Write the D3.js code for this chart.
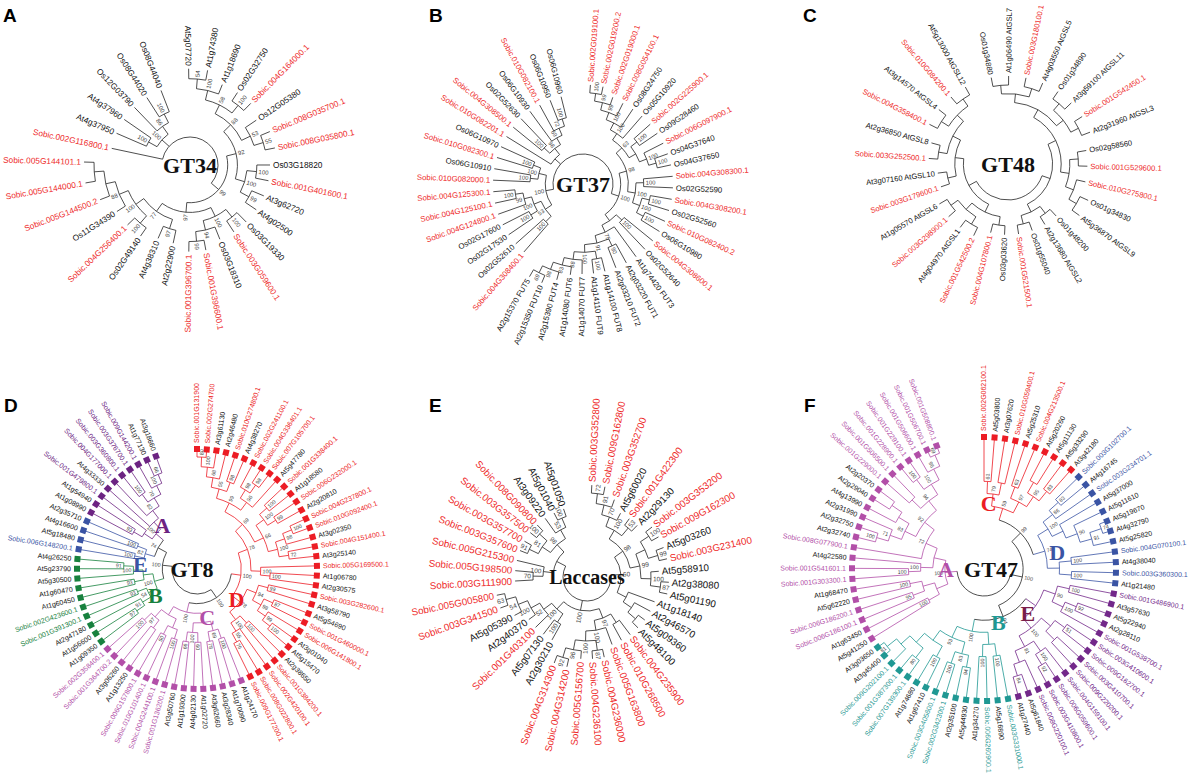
<!DOCTYPE html>
<html>
<head>
<meta charset="utf-8">
<script src="https://cdn.jsdelivr.net/npm/d3@7"></script>
<style>
  body { margin: 0; background: #fff; }
  text { font-family: "Liberation Sans", Arial, sans-serif; }
</style>
</head>
<body>
<svg id="fig" width="1192" height="774"></svg>
<script>
// trees are newick strings, clockwise leaf order, bootstrap values as node labels

// A - GT34
const gt34UpperLeft = "((At4g37950,At4g37960)100,(Os12G03790,(Os08G44020,Os08G44040)100)86)100";
const gt34Top = "(((At5g07720,At1g74380)54,At1g18690)100,(Os02G32750,Sobic.004G164000.1)100)58";
const gt34TopRight = "(Os12G05380,(Sobic.008G035700.1,Sobic.008G035800.1)55)53";
const gt34Mid = "((Os03G18820,Sobic.001G401600.1)100,(At3g62720,At4g02500)99)100";
const gt34Bottom = "((Os03G19330,Sobic.003G059600.1)100,(Os03G18310,(Sobic.001G396600.1,Sobic.001G396700.1)99)94)100";
const gt34Left = "((At2g22900,At4g38310)97,((Os02G49140,Sobic.004G256400.1)100,(Os11G34390,(Sobic.005G144500.2,(Sobic.005G144000.1,Sobic.005G144101.1)))88)100)77";
const gt34Tree = `(Sobic.002G116800.1,${gt34UpperLeft},(((${gt34Top},${gt34TopRight})88,${gt34Mid})92,(${gt34Bottom},${gt34Left})97)99)`;

// B - GT37
const gt37LowLeft = "((Sobic.004G308400.1,Os02G52610)100,((Os02G17530,Os02G17600)100,(Sobic.004G124800.1,(Sobic.004G125100.1,Sobic.004G125300.1)100)99)100)53";
const gt37Left = "((Sobic.010G082000.1,Os06G10910)100,(Sobic.010G082300.1,Os06G10970)100)100";
const gt37UpLeft = "(Sobic.010G082201.1,((Sobic.004G308500.1,Os02G52630)100,(Os06G10930,(Sobic.010G082100.1,(Os06G10950,Os06G10960)100)72)69)98)";
const gt37Top = "((((((Sobic.002G019100.1,Sobic.002G019200.2)100,Sobic.002G019000.1)99,Sobic.008G054100.1)99,Os08G24750)100,Os05G10920)100,((Sobic.002G225900.1,Os09G28460)100,(Sobic.006G097900.1,(Os04G37640,Os04G37650)100)100))63";
const gt37Right = "((Sobic.004G308300.1,Os02G52590)100,((Sobic.004G308200.1,Os02G52560)100,(Sobic.010G082400.2,Os06G10980)100)100)100";
const gt37LowRight = "((Sobic.004G308600.1,Os02G52640)100,(At1g74420 FUT3,((At2g03220 FUT1,At2g03210 FUT2)90,((At1g14100 FUT8,At1g14110 FUT9)100,(At1g14070 FUT7,(At1g14080 FUT6,(At2g15390 FUT4,(At2g15350 FUT10,At2g15370 FUT5)69)98)83)88)100)91)75)";
const gt37Tree = `((${gt37LowLeft},${gt37Left})100,${gt37UpLeft},((${gt37Top},${gt37Right})98,${gt37LowRight})100)`;

// C - GT48
const gt48Top = "((Os01g34880,At1g06490 AtGSL7),(Sobic.003G180100.1,At4g03550 AtGSL5))";
const gt48RightTop = "((Os01g34890,At3g59100 AtGSL11),(Sobic.001G542450.1,At2g31960 AtGSL3))";
const gt48RightLow = "((Os02g58560,Sobic.001G529600.1),(Sobic.010G275800.1,(Os01g34830,At5g36870 AtGSL9)))";
const gt48Bottom = "((Os01g48200,At2g13680 AtGSL2),(Os01g55040,Sobic.001G521500.1))";
const gt48LowLeft = "((Os03g03620,Sobic.004G107800.1),((Sobic.001G542500.2,At4g04970 AtGSL1),(Sobic.003G298900.1,At1g05570 AtGSL6)))";
const gt48Left = "((Sobic.003G179600.1,At3g07160 AtGSL10),((Sobic.003G252500.1,At2g36850 AtGSL8),((Sobic.004G358400.1,At3g14570 AtGSL4),(Sobic.010G084200.1,At5g13000 AtGSL12))))";
const gt48Tree = `((((${gt48Top},${gt48RightTop}),${gt48RightLow}),${gt48Bottom}),(${gt48LowLeft},${gt48Left}))`;

// E - Laccases
const lacTop = "((((Sobic.003G352800,Sobic.009G162800)72,Sobic.003G352700)91,At5g60020)70,(Sobic.001G422300,At2g29130)53)100";
const lacRight = "(((Sobic.003G353200,Sobic.009G162300)100,(At5g03260,Sobic.003G231400)99),(At5g58910,(At2g38080,At5g01190)87)100)99";
const lacMidRight = "(At1g18140,(At2g46570,(At5g09360,At5g48100)))";
const lacBottom = "((Sobic.004G235900,Sobic.010G268500),(Sobic.005G163800,((Sobic.004G236000,Sobic.004G236100)87,(Sobic.005G156700,(Sobic.004G314200,Sobic.004G314300)92)96)100)100)97";
const lacLowLeft = "((At2g30210,At5g07130)100,(Sobic.001G403100,(At2g40370,(At5g05390,(Sobic.003G341500,Sobic.005G005800)63)54)100)52)100";
const lacLeft = "((Sobic.003G111900,Sobic.005G198500)70,Sobic.005G215300)100";
const lacUpLeft = "(((Sobic.003G357600,Sobic.003G357700)91,(Sobic.003G357500,Sobic.008G090800)100)81,(At3g09220,(At5g01040,At5g01050)100)53)98";
const lacTree = `(((${lacTop},${lacRight})98,${lacMidRight})60,(${lacBottom},${lacLowLeft})100,(${lacLeft},${lacUpLeft}))`;

// D - GT8, one newick per clade
const gt8D1 = "((((Sobic.001G131900,Sobic.002G274700)80,At3g61130)100,At2g46480)68,(Sobic.010G274800.1,At4g38270)98)55";
const gt8D2 = "((Sobic.002G241100.1,(Sobic.004G336401.1,Sobic.007G105700.1)98)98,At5g47780)96";
const gt8D3 = "((Sobic.001G338400.1,At1g18580)100,(Sobic.006G232000.1,At2g20810)99)100";
const gt8D4 = "(((Sobic.004G237800.1,Sobic.010G092400.1)100,At3g02350)98,(Sobic.004G151400.1,At3g25140)72)100";
const gt8D5 = "(Sobic.005G169500.1,(At1g06780,At2g30575)100)100";
const gt8D6 = "((Sobic.003G282600.1,At3g58790)99,((At5g54690,Sobic.001G460000.1)87,(Sobic.006G141800.1,(At3g01040,At5g15470)100)99)98)94";
const gt8D7 = "((At2g38650,Sobic.001G384200.1)100,(Sobic.002G420100.1,(Sobic.008G022800.1,Sobic.009G177200.1)76)55)100";
const gt8CladeD = `((((${gt8D1},${gt8D2})99,(${gt8D3},${gt8D4})66)69,${gt8D5})78,(${gt8D6},${gt8D7})78)100`;
const gt8CladeC = "((((At1g24170,At1g70090)100,(At3g28340,At3g62660)78)69,((At1g02720,At4g02130)60,(At1g19300,At3g50760)66)100),(((Sobic.001G136200.1,Sobic.004G244100.1)100,(Sobic.010G101400.1,Sobic.006G157800.1)50),((At1g13250,At3g06260),(Sobic.001G364700.2,Sobic.002G358400.1)100)97))100";
const gt8CladeB = "((((At1g09350,At1g56600)97,At2g47180)91,(Sobic.001G391300.1,Sobic.002G423600.1)93)54,((At1g60450,At1g60470)93,(At5g30500,(At5g23790,At4g26250)91)100))100";
const gt8CladeE = "((Sobic.006G148200.1,At5g18480)100,(At4g16600,At2g35710)100)82";
const gt8CladeA = "(((At1g08990,At1g54940)93,Sobic.001G479800.1),(At4g33330,(Sobic.004G177000.1,((Sobic.003G360800.1,Sobic.003G376700.1)100,(Sobic.009G144200.1,(At1g77130,At3g18660)66)100)70)82))100";
const gt8Root = "((D,C)100,(B,(E,A)74)100)";
const gt8Keys = ["D", "C", "B", "E", "A"];
const gt8Trees = [gt8CladeD, gt8CladeC, gt8CladeB, gt8CladeE, gt8CladeA];
const gt8Colors = ["#ec1c24", "#b24fa8", "#17813e", "#3a54a4", "#6c2382"];

// F - GT47, one newick per clade
const gt47CladeC = "(((Sobic.002G062100.1,At5g03800)61,(At3g07620,Sobic.010G059400.1))79,((At5g25310,Sobic.004G213500.1)63,((At5g20260,At5g11130),(At5g33290,At3g42180)83)95)97)59";
const gt47CladeD = "((((Sobic.003G102700.1,At4g16745)83,Sobic.003G234701.1)86,(At5g37000,(At5g11610,((At5g19670,At4g32790)74,At5g25820)91)90))100,((Sobic.004G070100.1,At4g38040)100,(Sobic.003G360300.1,At1g21480)100))74";
const gt47CladeE = "(((Sobic.001G486900.1,At3g57630)100,((At5g22940,At2g28110)92,Sobic.001G538700.1)100)90,(((Sobic.003G410600.1,Sobic.009G162700.1)51,(Sobic.003G410700.1,Sobic.009G220200.1)),((Sobic.004G159100.1,(Sobic.006G059600.1,Sobic.003G410800.1)92)100,(Sobic.008G220100.1,(At5g61840,At1g27440)84))81)100)";
const gt47CladeB = "(((Sobic.003G331000.1,At5g16890)100,(Sobic.006G260900.1,At1g34270)100),(((At5g44930,At2g35100)94,(Sobic.002G342300.1,Sobic.003G405600.1)100)83,((At1g67410,At1g74680)100,((Sobic.007G139300.1,Sobic.001G387300.1)80,(Sobic.009G202100.1,(At3g45400,At3g03650)81))))93)100";
const gt47CladeA = "(((At5g41250,At1g63450)100,((Sobic.006G186100.1,Sobic.006G186200.1)95,(At5g62220,At1g68470)100)),(((Sobic.001G303300.1,Sobic.001G541601.1)100,At4g22580)100,(Sobic.008G077900.1,((((At2g32740,At2g32750)100,At2g31990)71,(At4g13990,(At2g29040,At2g20370)))83,((Sobic.001G229000.1,Sobic.001G506500.1),((Sobic.001G228900.1,Sobic.001G229100.1)100,(Sobic.001G506600.1,(Sobic.001G506700.1,Sobic.001G508800.1)69)96)100)94)92)72))100";
const gt47Root = "(((C,D)99,(E,B)94)100,A)";
const gt47Keys = ["C", "D", "E", "B", "A"];
const gt47Trees = [gt47CladeC, gt47CladeD, gt47CladeE, gt47CladeB, gt47CladeA];
const gt47Colors = ["#ec1c24", "#3a54a4", "#73288a", "#1f9893", "#b24fa8"];

const panelLetters = ["A", "B", "C", "D", "E", "F"];
const sobicRed = "#ee2a2a";

// ---------- helpers ----------
function parseNewick(str) {
  const s = str.replace(/\s*\n\s*/g, "");
  let i = 0;
  function node() {
    const n = {};
    if (s[i] === "(") {
      i++;
      n.children = [node()];
      while (s[i] === ",") { i++; n.children.push(node()); }
      i++;
    }
    const j = i;
    while (i < s.length && !",();".includes(s[i])) i++;
    const lab = s.slice(j, i).trim();
    if (n.children) n.boot = lab; else n.name = lab;
    return n;
  }
  return node();
}

function paint(n, color) {
  n.color = color;
  (n.children || []).forEach(c => paint(c, color));
}

function withClades(rootStr, keys, trees, colors) {
  const root = parseNewick(rootStr);
  (function swap(n) {
    if (!n.children) return;
    n.children = n.children.map(c => {
      const k = keys.indexOf(c.name);
      if (k < 0) { swap(c); return c; }
      const sub = parseNewick(trees[k]);
      paint(sub, colors[k]);
      return sub;
    });
  })(root);
  return root;
}

function pt(a, r) {
  const t = a * Math.PI / 180;
  return [r * Math.cos(t), r * Math.sin(t)];
}
function flipped(a) {
  const m = ((a % 360) + 360) % 360;
  return m > 90 && m < 270;
}

const svg = d3.select("#fig");

function drawPanel(cfg) {
  const g = svg.append("g").attr("transform", `translate(${cfg.cx},${cfg.cy})`);
  const root = d3.hierarchy(cfg.tree);
  const leaves = root.leaves();

  let slot = 0;
  leaves.forEach((l, k) => {
    if (k) slot += 1 + ((cfg.gaps && cfg.gaps[l.data.name]) || 0);
    l.slot = slot;
  });
  const angle = d3.scaleLinear().domain([0, slot]).range([cfg.start, cfg.end]);
  leaves.forEach(l => { l.ang = angle(l.slot); });
  root.eachAfter(n => {
    if (n.children) n.ang = (n.children[0].ang + n.children[n.children.length - 1].ang) / 2;
  });

  const maxD = d3.max(root.descendants().filter(n => n.children), n => n.depth);
  const radius = d3.scaleLinear().domain([0, maxD]).range([cfg.r0, cfg.rInner]);
  root.each(n => { if (n.children) n.r = radius(n.depth); });
  leaves.forEach(l => {
    l.r = cfg.aligned ? cfg.rLeaf
      : Math.min(cfg.rLeaf, Math.max(l.parent.r + cfg.stem, cfg.rMin));
  });

  const ink = n => n.data.color || "#222";

  // radial branches
  g.append("g").selectAll("path")
    .data(root.descendants().filter(n => n.parent))
    .join("path")
    .attr("d", n => `M${pt(n.ang, n.parent.r)}L${pt(n.ang, n.r)}`)
    .attr("stroke", ink)
    .attr("stroke-width", 0.8)
    .attr("fill", "none");

  // arcs joining children
  g.append("g").selectAll("path")
    .data(root.descendants().filter(n => n.children))
    .join("path")
    .attr("d", n => {
      const a1 = n.children[0].ang, a2 = n.children[n.children.length - 1].ang;
      return `M${pt(a1, n.r)}A${n.r},${n.r} 0 ${a2 - a1 > 180 ? 1 : 0} 1 ${pt(a2, n.r)}`;
    })
    .attr("stroke", ink)
    .attr("stroke-width", 0.8)
    .attr("fill", "none");

  // bootstrap values
  if (cfg.bootFont) {
    g.append("g").selectAll("text")
      .data(root.descendants().filter(n => n.children && n.parent && n.data.boot))
      .join("text")
      .attr("transform", n => `rotate(${n.ang}) translate(${n.r + 2},0)` + (flipped(n.ang) ? " rotate(180)" : ""))
      .attr("text-anchor", n => flipped(n.ang) ? "end" : "start")
      .attr("dy", "0.35em")
      .attr("font-size", cfg.bootFont)
      .attr("fill", "#444")
      .text(n => n.data.boot);
  }

  // squares at leaves
  if (cfg.aligned) {
    g.append("g").selectAll("rect")
      .data(leaves)
      .join("rect")
      .attr("transform", l => `rotate(${l.ang}) translate(${l.r},0)`)
      .attr("x", -3).attr("y", -3).attr("width", 6).attr("height", 6)
      .attr("fill", ink);
  }

  // leaf labels
  g.append("g").selectAll("text")
    .data(leaves)
    .join("text")
    .attr("transform", l => `rotate(${l.ang}) translate(${l.r + cfg.pad},0)` + (flipped(l.ang) ? " rotate(180)" : ""))
    .attr("text-anchor", l => flipped(l.ang) ? "end" : "start")
    .attr("dy", "0.35em")
    .attr("font-size", cfg.font)
    .attr("fill", l => l.data.name.startsWith("Sobic") ? (l.data.color || sobicRed) : "#111")
    .text(l => l.data.name);

  // title in the middle
  g.append("text")
    .attr("x", cfg.titleDx || 0)
    .attr("dy", "0.35em")
    .attr("text-anchor", "middle")
    .style("font-family", "'Liberation Serif', 'Times New Roman', serif")
    .attr("font-weight", "bold")
    .attr("font-size", cfg.titleSize)
    .attr("fill", "#111")
    .text(cfg.title);

  // clade letters
  (cfg.clades || []).forEach(c => {
    const p = pt(c.a, c.r);
    g.append("text")
      .attr("x", p[0]).attr("y", p[1])
      .attr("dy", "0.35em")
      .attr("text-anchor", "middle")
      .style("font-family", "'Liberation Serif', 'Times New Roman', serif")
      .attr("font-weight", "bold")
      .attr("font-size", 22)
      .attr("fill", c.color)
      .text(c.t);
  });

  svg.append("text")
    .attr("x", cfg.lx).attr("y", cfg.ly)
    .attr("font-size", 19)
    .attr("font-weight", "bold")
    .attr("fill", "#000")
    .text(cfg.letter);
}

const panels = [
  { letter: panelLetters[0], lx: 3, ly: 22, tree: parseNewick(gt34Tree), title: "GT34", titleSize: 22,
    cx: 190, cy: 165, r0: 28, rInner: 96, rLeaf: 106, rMin: 80, stem: 10, pad: 3,
    start: 192, end: 541.6, gaps: { "At5g07720": 0.8 }, font: 8.3, bootFont: 6 },
  { letter: panelLetters[1], lx: 429, ly: 22, tree: parseNewick(gt37Tree), title: "GT37", titleSize: 22,
    cx: 583, cy: 184, r0: 30, rInner: 99, rLeaf: 107, rMin: 90, stem: 8, pad: 3,
    start: 131, end: 480, gaps: { "Sobic.002G019100.1": 1.5 }, font: 7.8, bootFont: 5.8 },
  { letter: panelLetters[2], lx: 803, ly: 22, tree: parseNewick(gt48Tree), title: "GT48", titleSize: 22,
    cx: 1008, cy: 164, r0: 36, rInner: 79, rLeaf: 88, rMin: 62, stem: 9, pad: 3,
    start: 259, end: 601, font: 7.6 },
  { letter: panelLetters[3], lx: 4, ly: 412, tree: withClades(gt8Root, gt8Keys, gt8Trees, gt8Colors),
    title: "GT8", titleSize: 22, titleDx: -5,
    cx: 197, cy: 569, r0: 25, rInner: 112, rLeaf: 120, aligned: true, pad: 6,
    start: 270, end: 610, font: 7, bootFont: 5.3,
    clades: [
      { t: "A", a: -128, r: 56, color: "#6c2382" },
      { t: "E", a: 185, r: 57, color: "#3a54a4" },
      { t: "B", a: 148, r: 49, color: "#17813e" },
      { t: "C", a: 78, r: 49, color: "#b24fa8" },
      { t: "D", a: 38, r: 50, color: "#ec1c24" }] },
  { letter: panelLetters[4], lx: 429, ly: 412, tree: parseNewick(lacTree), title: "Laccases", titleSize: 20,
    cx: 587, cy: 577, r0: 24, rInner: 84, rLeaf: 92, rMin: 72, stem: 8, pad: 3,
    start: 273, end: 611, font: 9.8, bootFont: 6.5 },
  { letter: panelLetters[5], lx: 804, ly: 412, tree: withClades(gt47Root, gt47Keys, gt47Trees, gt47Colors),
    title: "GT47", titleSize: 22, titleDx: 7,
    cx: 984, cy: 569, r0: 27, rInner: 124, rLeaf: 132, aligned: true, pad: 6,
    start: 270, end: 609, font: 7, bootFont: 5.3,
    clades: [
      { t: "A", a: 180, r: 38, color: "#b24fa8" },
      { t: "C", a: -86, r: 66, color: "#ec1c24" },
      { t: "D", a: -13, r: 75, color: "#3a54a4" },
      { t: "E", a: 45, r: 62, color: "#7a1e4a" },
      { t: "B", a: 75, r: 55, color: "#1f9893" }] }
];

panels.forEach(drawPanel);
</script>
</body>
</html>
